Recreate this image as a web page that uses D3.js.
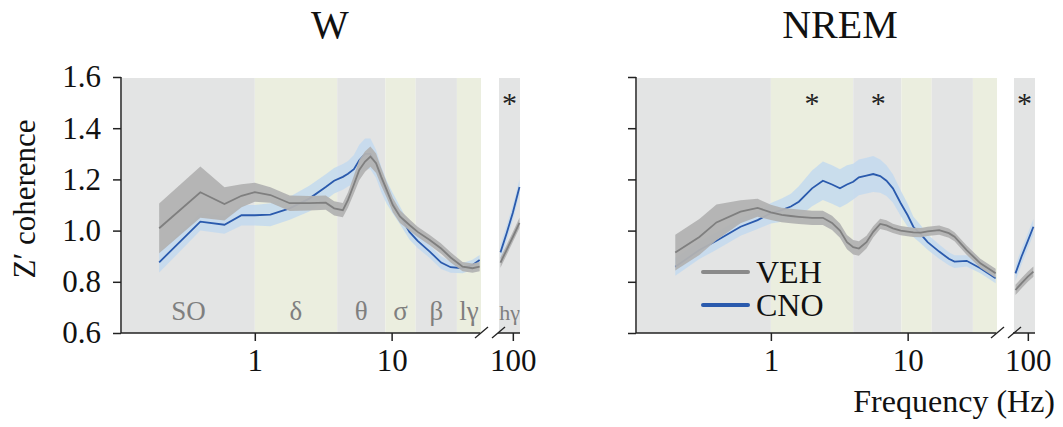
<!DOCTYPE html>
<html>
<head>
<meta charset="utf-8">
<script src="https://cdn.jsdelivr.net/npm/d3@7"></script>
<style>
  body { margin: 0; background: #fff; }
  svg { font-family: "Liberation Serif", "Times New Roman", serif; }
</style>
</head>
<body>
<div id="chart"></div>
<script>
// ---- data ----
var bandEdges = [1, 4, 9, 15, 30];           // Hz, between SO | δ | θ | σ | β | lγ
var bandNames = ["SO", "δ", "θ", "σ", "β", "lγ"];
var hgName = "hγ";

var wHz = [0.2, 0.4, 0.6, 0.8, 1.0, 1.3, 1.8, 2.5, 3.3, 3.8, 4.4, 4.8, 5.3, 5.8, 6.4, 7.0, 7.7, 8.4, 9.2, 10.2, 11.5, 13.5, 15.5, 19, 23, 27, 33, 39, 44];
var wVeh = [1.009, 1.150, 1.104, 1.136, 1.150, 1.139, 1.107, 1.107, 1.109, 1.087, 1.080, 1.120, 1.180, 1.237, 1.270, 1.289, 1.263, 1.210, 1.159, 1.100, 1.055, 1.022, 0.995, 0.963, 0.930, 0.895, 0.859, 0.853, 0.859];
var wVehSem = [0.097, 0.100, 0.065, 0.045, 0.037, 0.030, 0.030, 0.028, 0.028, 0.028, 0.028, 0.030, 0.035, 0.040, 0.040, 0.040, 0.038, 0.035, 0.030, 0.028, 0.025, 0.022, 0.020, 0.020, 0.020, 0.020, 0.018, 0.018, 0.018];
var wCno = [0.876, 1.035, 1.023, 1.060, 1.060, 1.062, 1.087, 1.125, 1.170, 1.195, 1.210, 1.222, 1.240, 1.275, 1.300, 1.300, 1.260, 1.200, 1.150, 1.107, 1.060, 0.995, 0.960, 0.918, 0.875, 0.857, 0.853, 0.866, 0.885];
var wCnoSem = [0.040, 0.035, 0.035, 0.040, 0.040, 0.045, 0.045, 0.050, 0.050, 0.050, 0.050, 0.050, 0.055, 0.060, 0.060, 0.060, 0.055, 0.050, 0.045, 0.040, 0.035, 0.030, 0.028, 0.025, 0.025, 0.022, 0.020, 0.020, 0.020];

var wHgHz = [81, 90, 100, 112];
var wHgVeh = [0.875, 0.925, 0.975, 1.030];
var wHgCno = [0.915, 0.990, 1.070, 1.170];

var nHz = [0.2, 0.3, 0.4, 0.6, 0.8, 1.0, 1.2, 1.4, 1.6, 2.0, 2.4, 2.8, 3.2, 3.6, 4.0, 4.4, 5.0, 5.6, 6.3, 7.0, 7.8, 8.9, 10, 11, 12.5, 14, 17, 20, 22, 27, 34, 44];
var nVeh = [0.914, 0.975, 1.032, 1.074, 1.089, 1.071, 1.061, 1.057, 1.054, 1.050, 1.050, 1.030, 1.000, 0.955, 0.935, 0.930, 0.955, 0.995, 1.026, 1.020, 1.009, 1.000, 0.996, 0.993, 0.992, 0.997, 1.002, 0.990, 0.976, 0.924, 0.872, 0.833];
var nVehSem = [0.070, 0.070, 0.070, 0.045, 0.035, 0.030, 0.028, 0.028, 0.028, 0.028, 0.028, 0.028, 0.028, 0.028, 0.028, 0.028, 0.025, 0.022, 0.020, 0.020, 0.018, 0.018, 0.018, 0.018, 0.018, 0.018, 0.018, 0.018, 0.018, 0.018, 0.018, 0.018];
var nCno = [0.859, 0.924, 0.960, 1.015, 1.041, 1.068, 1.080, 1.094, 1.113, 1.165, 1.195, 1.180, 1.165, 1.180, 1.191, 1.208, 1.215, 1.221, 1.213, 1.195, 1.165, 1.107, 1.060, 1.015, 0.985, 0.955, 0.918, 0.890, 0.879, 0.882, 0.853, 0.814];
var nCnoSem = [0.035, 0.035, 0.035, 0.035, 0.035, 0.040, 0.045, 0.050, 0.060, 0.070, 0.075, 0.075, 0.075, 0.075, 0.070, 0.070, 0.070, 0.070, 0.065, 0.060, 0.055, 0.050, 0.045, 0.040, 0.035, 0.030, 0.028, 0.025, 0.025, 0.022, 0.020, 0.020];

var nHgHz = [81, 90, 100, 110];
var nHgVeh = [0.768, 0.795, 0.820, 0.840];
var nHgCno = [0.833, 0.900, 0.960, 1.015];

var hgVehSem = 0.02, hgCnoSem = 0.03;
var yTicks = [0.6, 0.8, 1.0, 1.2, 1.4, 1.6];

// ---- drawing ----
var W = 1063, H = 427;
var svg = d3.select("#chart").append("svg").attr("width", W).attr("height", H);

var y = d3.scaleLinear().domain([0.6, 1.6]).range([333, 77]);
var colGrayBg = "#e3e4e4", colGreenBg = "#ebeedf";
var colVeh = "#7f7f7f", colVehBand = "#b2b2b2";
var colCno = "#2a5aad", colCnoBand = "#c3d9ee";

function zip(hz, m, s) {
    return hz.map(function (f, i) {
        var e = Array.isArray(s) ? s[i] : s;
        return { f: f, m: m[i], lo: m[i] - e, hi: m[i] + e };
    });
}

function drawPanel(p) {
    var g = svg.append("g");
    var x = d3.scaleLog().domain(p.domain).range(p.range);
    var xh = d3.scaleLog().domain([79, 113]).range(p.hgRange);
    var edges = [p.domain[0]].concat(bandEdges).concat([p.domain[1]]);

    // band backgrounds
    bandNames.forEach(function (name, i) {
        g.append("rect")
            .attr("x", x(edges[i])).attr("y", y(1.6) + 1)
            .attr("width", x(edges[i + 1]) - x(edges[i]))
            .attr("height", y(0.6) - y(1.6) - 1)
            .attr("fill", i % 2 === 0 ? colGrayBg : colGreenBg);
    });
    g.append("rect")
        .attr("x", xh.range()[0]).attr("y", y(1.6) + 1)
        .attr("width", xh.range()[1] - xh.range()[0])
        .attr("height", y(0.6) - y(1.6) - 1)
        .attr("fill", colGrayBg);

    var area = function (sx) {
        return d3.area().x(function (d) { return sx(d.f); })
            .y0(function (d) { return y(d.lo); }).y1(function (d) { return y(d.hi); });
    };
    var line = function (sx) {
        return d3.line().x(function (d) { return sx(d.f); }).y(function (d) { return y(d.m); });
    };

    var sets = [
        { sx: x, veh: zip(p.hz, p.veh, p.vehSem), cno: zip(p.hz, p.cno, p.cnoSem) },
        { sx: xh, veh: zip(p.hgHz, p.hgVeh, hgVehSem), cno: zip(p.hgHz, p.hgCno, hgCnoSem) }
    ];
    sets.forEach(function (s) {
        g.append("path").datum(s.cno).attr("d", area(s.sx)).attr("fill", colCnoBand).attr("opacity", 0.85);
        g.append("path").datum(s.cno).attr("d", line(s.sx)).attr("fill", "none")
            .attr("stroke", colCno).attr("stroke-width", 1.8);
        g.append("path").datum(s.veh).attr("d", area(s.sx)).attr("fill", colVehBand).attr("opacity", 0.95);
        g.append("path").datum(s.veh).attr("d", line(s.sx)).attr("fill", "none")
            .attr("stroke", colVeh).attr("stroke-width", 1.8);
    });

    // band labels
    if (p.bandLabels) {
        bandNames.forEach(function (name, i) {
            g.append("text").attr("x", x(Math.sqrt(edges[i] * edges[i + 1]))).attr("y", 320)
                .attr("text-anchor", "middle").attr("font-size", 27).attr("fill", "#7f7f7f").text(name);
        });
        g.append("text").attr("x", xh(Math.sqrt(79 * 113))).attr("y", 320)
            .attr("text-anchor", "middle").attr("font-size", 22).attr("fill", "#7f7f7f").text(hgName);
    }

    // stars
    p.stars.forEach(function (s) {
        var sx = s.hg ? xh(s.f) : x(s.f);
        g.append("text").attr("x", sx).attr("y", 113).attr("text-anchor", "middle")
            .attr("font-size", 30).attr("fill", "#222").text("*");
    });

    // y axis
    var yAxis = d3.axisLeft(y).tickValues(yTicks).tickSize(8).tickPadding(12)
        .tickFormat(p.yLabels ? d3.format(".1f") : "");
    var ya = g.append("g").attr("transform", "translate(" + p.axisX + ",0)").call(yAxis);
    ya.select(".domain").attr("d", "M0," + y(1.6) + "V" + y(0.6));
    ya.selectAll("line, path").attr("stroke", "#222").attr("stroke-width", 1.5);
    ya.selectAll("text").attr("font-family", "Liberation Serif").attr("font-size", 31).attr("fill", "#111");

    // x axes (main segment + hγ segment)
    var xa = g.append("g").attr("transform", "translate(0," + y(0.6) + ")")
        .call(d3.axisBottom(x).tickValues([1, 10]).tickSize(8).tickPadding(8).tickFormat(d3.format("d")));
    xa.select(".domain").attr("d", "M" + p.axisX + ",0H" + (p.range[1] - 1));
    var xb = g.append("g").attr("transform", "translate(0," + y(0.6) + ")")
        .call(d3.axisBottom(xh).tickValues([100]).tickSize(8).tickPadding(8).tickFormat(d3.format("d")));
    xb.select(".domain").attr("d", "M" + (p.hgRange[0] - 1) + ",0H" + p.hgRange[1]);
    [xa, xb].forEach(function (a) {
        a.selectAll("line, path").attr("stroke", "#222").attr("stroke-width", 1.5);
        a.selectAll("text").attr("font-family", "Liberation Serif").attr("font-size", 31).attr("fill", "#111");
    });
    // break marks
    [p.range[1] - 6, p.range[1] + 11].forEach(function (bx) {
        g.append("line").attr("x1", bx).attr("y1", y(0.6) + 5).attr("x2", bx + 13).attr("y2", y(0.6) - 6)
            .attr("stroke", "#222").attr("stroke-width", 1.3);
    });

    // title
    g.append("text").attr("x", p.titleX).attr("y", 38).attr("text-anchor", "middle")
        .attr("font-size", 40).attr("fill", "#111").text(p.title);
    return g;
}

drawPanel({
    title: "W", titleX: 330, axisX: 121,
    domain: [0.107, 45], range: [122, 481], hgRange: [499, 520],
    hz: wHz, veh: wVeh, vehSem: wVehSem, cno: wCno, cnoSem: wCnoSem,
    hgHz: wHgHz, hgVeh: wHgVeh, hgCno: wHgCno,
    bandLabels: true, yLabels: true,
    stars: [{ f: 94.5, hg: true }]
});
drawPanel({
    title: "NREM", titleX: 840, axisX: 636,
    domain: [0.105, 45], range: [637, 997], hgRange: [1014, 1035],
    hz: nHz, veh: nVeh, vehSem: nVehSem, cno: nCno, cnoSem: nCnoSem,
    hgHz: nHgHz, hgVeh: nHgVeh, hgCno: nHgCno,
    bandLabels: false, yLabels: false,
    stars: [{ f: 2.0 }, { f: 6.1 }, { f: 94.5, hg: true }]
});

// y label
svg.append("text").attr("transform", "translate(35,199) rotate(-90)")
    .attr("text-anchor", "middle").attr("font-size", 31).attr("fill", "#111").text("Z′ coherence");
// x label
svg.append("text").attr("x", 1055).attr("y", 412).attr("text-anchor", "end")
    .attr("font-size", 32).attr("fill", "#111").text("Frequency (Hz)");

// legend
var legend = svg.append("g");
[{ name: "VEH", c: "#8a8a8a", y: 272 }, { name: "CNO", c: colCno, y: 305 }].forEach(function (d) {
    legend.append("line").attr("x1", 703).attr("x2", 748).attr("y1", d.y).attr("y2", d.y)
        .attr("stroke", d.c).attr("stroke-width", 4).attr("stroke-linecap", "round");
    legend.append("text").attr("x", 756).attr("y", d.y + 11).attr("font-size", 32).attr("fill", "#111").text(d.name);
});
</script>
</body>
</html>
